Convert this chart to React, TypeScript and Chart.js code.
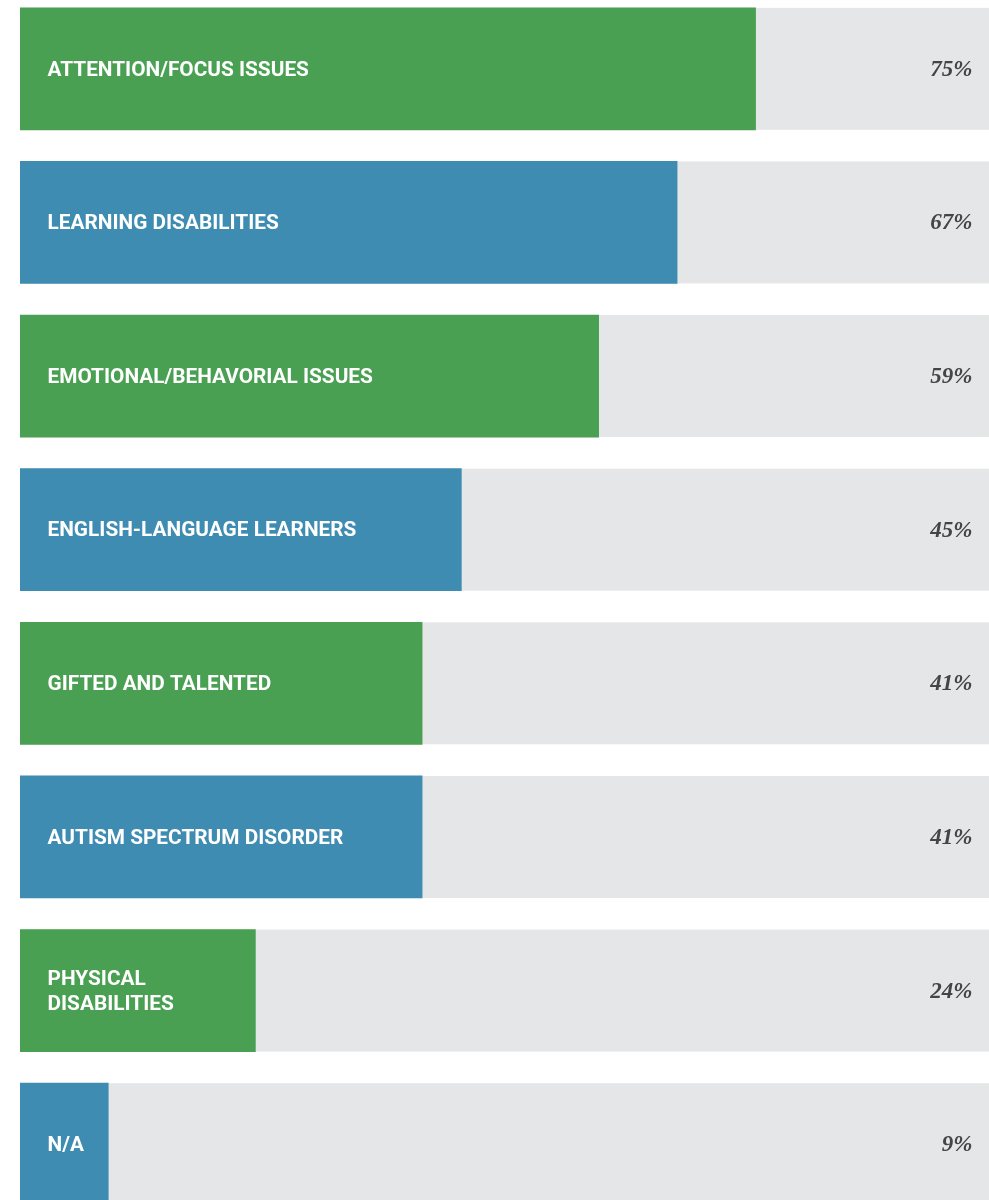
import React, { useEffect, useRef } from "react";
import { Chart, registerables } from "chart.js";

Chart.register(...registerables);

const categories: string[][] = [
  ["ATTENTION/FOCUS ISSUES"],
  ["LEARNING DISABILITIES"],
  ["EMOTIONAL/BEHAVORIAL ISSUES"],
  ["ENGLISH-LANGUAGE LEARNERS"],
  ["GIFTED AND TALENTED"],
  ["AUTISM SPECTRUM DISORDER"],
  ["PHYSICAL", "DISABILITIES"],
  ["N/A"],
];
const values: number[] = [75, 67, 59, 45, 41, 41, 24, 9];
const valueLabels: string[] = ["75%", "67%", "59%", "45%", "41%", "41%", "24%", "9%"];
const barColors: string[] = ["#4aa052", "#3f8cb3", "#4aa052", "#3f8cb3", "#4aa052", "#3f8cb3", "#4aa052", "#3f8cb3"];

const TRACK = "#e5e6e8";
const X_MAX = 98.8;

const trackPlugin = {
  id: "track",
  beforeDatasetsDraw(chart: any) {
    const { ctx, chartArea } = chart;
    const meta = chart.getDatasetMeta(0);
    ctx.save();
    ctx.fillStyle = TRACK;
    meta.data.forEach((bar: any) => {
      const h = bar.height;
      ctx.fillRect(chartArea.left, bar.y - h / 2, chartArea.right - chartArea.left, h);
    });
    ctx.restore();
  },
};

const labelPlugin = {
  id: "labels",
  afterDatasetsDraw(chart: any) {
    const { ctx, chartArea } = chart;
    const meta = chart.getDatasetMeta(0);
    ctx.save();
    meta.data.forEach((bar: any, i: number) => {
      const lines = categories[i];
      ctx.fillStyle = "#ffffff";
      ctx.font = "bold 20.8px Roboto";
      ctx.textAlign = "left";
      ctx.textBaseline = "middle";
      const lh = 25.5;
      lines.forEach((ln, j) => {
        const y = bar.y + (j - (lines.length - 1) / 2) * lh;
        ctx.fillText(ln, chartArea.left + 27.5, y + 1.5);
      });
      ctx.fillStyle = "#454545";
      ctx.font = "italic bold 23px 'Liberation Serif'";
      ctx.textAlign = "right";
      ctx.fillText(valueLabels[i], chartArea.right - 16.5, bar.y + 1);
    });
    ctx.restore();
  },
};

export default function App() {
  const ref = useRef<HTMLCanvasElement | null>(null);
  useEffect(() => {
    document.body.style.margin = "0";
    if (!ref.current) return;
    const chart = new Chart(ref.current, {
      type: "bar",
      data: {
        labels: categories.map((c) => c.join(" ")),
        datasets: [
          {
            data: values,
            backgroundColor: barColors,
            borderWidth: 0,
            barThickness: 122,
          },
        ],
      },
      options: {
        indexAxis: "y",
        animation: false,
        responsive: false,
        maintainAspectRatio: false,
        layout: { padding: { left: 20, right: 0, top: 0, bottom: 0 } },
        plugins: { legend: { display: false }, tooltip: { enabled: false } },
        scales: {
          x: { display: false, min: 0, max: X_MAX },
          y: { display: false, offset: true },
        },
      },
      plugins: [trackPlugin, labelPlugin],
    });
    return () => chart.destroy();
  }, []);
  return (
    <div style={{ position: "relative", width: 989, height: 1200, overflow: "hidden" }}>
      <canvas
        ref={ref}
        width={989}
        height={1229}
        style={{ position: "absolute", left: 0, top: -8, width: 989, height: 1229 }}
      />
    </div>
  );
}
